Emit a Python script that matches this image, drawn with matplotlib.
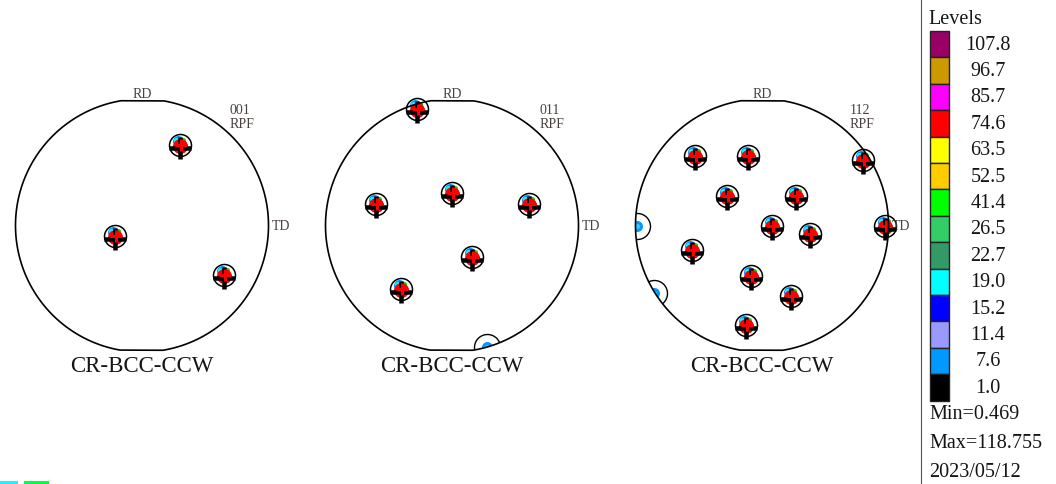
"""
Pole figures (001 / 011 / 112) with a level legend, redrawn in matplotlib
"""

import numpy as np
import matplotlib
matplotlib.use('Agg')
import matplotlib.pyplot as plt
from matplotlib.patches import Polygon, Rectangle
from matplotlib.transforms import offset_copy

# ---- data (unit circle coordinates) ----
PANEL_NAMES = ['001', '011', '112']
SAMPLE_NAME = 'CR-BCC-CCW'

POLES_001 = [(0.30, 0.64), (-0.21, -0.08), (0.65, -0.39)]
WEAK_001 = []

POLES_011 = [(-0.28, 0.92), (-0.60, 0.17), (0.00, 0.26), (0.61, 0.17),
             (0.16, -0.25), (-0.40, -0.50)]
WEAK_011 = [(0.28, -0.96)]

POLES_112 = [(-0.53, 0.55), (-0.11, 0.55), (0.80, 0.52), (-0.28, 0.23),
             (0.27, 0.23), (0.08, 0.00), (0.38, -0.07), (0.97, 0.00),
             (-0.55, -0.19), (-0.09, -0.40), (0.23, -0.56), (-0.13, -0.79)]
WEAK_112 = [(-0.99, 0.00), (-0.85, -0.53)]

LEVELS = ['107.8', '96.7', '85.7', '74.6', '63.5', '52.5', '41.4',
          '26.5', '22.7', '19.0', '15.2', '11.4', '7.6', '1.0']
LEVEL_COLORS = ['#990066', '#CC9900', '#FF00FF', '#FF0000', '#FFFF00',
                '#FFCC00', '#00FF00', '#33CC66', '#339966', '#00FFFF',
                '#0000FF', '#9999FF', '#0099FF', '#000000']
MIN_VALUE = '0.469'
MAX_VALUE = '118.755'
DATE = '2023/05/12'

# ---- layout (pixels) ----
W, H = 1056, 485
DPI = 100
CENTERS_X = [142, 452, 762]
CENTER_Y = 226.5
RADIUS = 126.5
HALF = 175

SERIF = 'Liberation Serif'
TEXT_DARK = '#151515'
TEXT_GREY = '#4a4040'


def px_rect(x0, y0, w, h):
    """pixel box (top-left origin) -> figure fraction rect"""
    return [x0 / W, 1 - (y0 + h) / H, w / W, h / H]


def px_pt(px):
    return px * 72.0 / DPI


def frame_circle():
    # circle with the short flat bits at top and bottom, like the original
    t = np.linspace(0, 2 * np.pi, 721)
    gap = np.radians(9.5)
    keep = (np.abs(t - np.pi / 2) > gap) & (np.abs(t - 3 * np.pi / 2) > gap)
    t = t[keep]
    return np.column_stack([np.cos(t), np.sin(t)])


def draw_pole(ax, fig, x, y):
    def shifted(dx, dy):
        return offset_copy(ax.transData, fig=fig, x=dx, y=dy, units='dots')

    ax.plot(x, y, 'o', ms=px_pt(22), mfc='white', mec='black', mew=1.1,
            zorder=3)
    ax.plot(x, y, 'o', ms=px_pt(11), mfc='#0099FF', mec='none',
            transform=shifted(-2, 4), zorder=4)
    ax.plot(x, y, 'o', ms=px_pt(5), mfc='#00FFFF', mec='none',
            transform=shifted(-4, 5), zorder=4)
    ax.plot(x, y, 'o', ms=px_pt(5), mfc='#00DD00', mec='none',
            transform=shifted(3, 5), zorder=4)
    ax.plot(x, y, 'o', ms=px_pt(15), mfc='#FF0000', mec='none',
            transform=shifted(0, -1), zorder=5)
    ax.plot(x, y, '+', ms=px_pt(22), mec='black', mew=px_pt(4.5),
            transform=shifted(0, -3), zorder=6)
    ax.plot(x, y, '+', ms=px_pt(12), mec='#FF0000', mew=px_pt(3),
            transform=shifted(1, 0), zorder=7)


def draw_weak_pole(ax, clip, x, y):
    parts = [
        ax.plot(x, y, 'o', ms=px_pt(26), mfc='white', mec='black', mew=1.0,
                zorder=3)[0],
        ax.plot(x, y, 'o', ms=px_pt(11), mfc='#0099FF', mec='none',
                zorder=4)[0],
        ax.plot(x, y, 'o', ms=px_pt(5), mfc='#33CCFF', mec='none',
                zorder=4)[0],
    ]
    for p in parts:
        p.set_clip_path(clip)


def draw_panel(fig, cx, name, poles, weak):
    ax = fig.add_axes(px_rect(cx - HALF, CENTER_Y - HALF, 2 * HALF, 2 * HALF))
    lim = HALF / RADIUS
    ax.set_xlim(-lim, lim)
    ax.set_ylim(-lim, lim)
    ax.set_aspect('equal')
    ax.axis('off')

    outline = Polygon(frame_circle(), closed=True, fill=False,
                      edgecolor='black', linewidth=1.2, zorder=8)
    ax.add_patch(outline)
    clip = Polygon(frame_circle(), closed=True, transform=ax.transData)

    for x, y in weak:
        draw_weak_pole(ax, clip, x, y)
    for x, y in poles:
        draw_pole(ax, fig, x, y)

    ax.text(0, 1.04, 'RD', ha='center', va='center', fontsize=10,
            family=SERIF, color=TEXT_GREY)
    ax.text(1.03, 0.0, 'TD', ha='left', va='center', fontsize=10,
            family=SERIF, color=TEXT_GREY)
    ax.text(0.69, 0.92, name, ha='left', va='center', fontsize=10,
            family=SERIF, color=TEXT_GREY)
    ax.text(0.69, 0.81, 'RPF', ha='left', va='center', fontsize=10,
            family=SERIF, color=TEXT_GREY)
    ax.text(0, -1.11, SAMPLE_NAME, ha='center', va='center', fontsize=16.5,
            family=SERIF, color=TEXT_DARK)
    return ax


def draw_legend(fig):
    box_w = 19
    top, pitch = 32, 26.4
    n = len(LEVELS)
    ax = fig.add_axes(px_rect(930, top, box_w, pitch * n))
    ax.set_xlim(0, 1)
    ax.set_ylim(n, 0)
    ax.axis('off')
    for i, (lab, col) in enumerate(zip(LEVELS, LEVEL_COLORS)):
        ax.add_patch(Rectangle((0, i), 1, 1, facecolor=col,
                               edgecolor='#222222', linewidth=1.0,
                               clip_on=False))
        ax.text(3.05, i + 0.5, lab, ha='center', va='center', fontsize=14.5,
                family=SERIF, color=TEXT_DARK, clip_on=False)

    def ftext(x, y, s):
        fig.text(x / W, 1 - y / H, s, ha='left', va='center', fontsize=14.5,
                 family=SERIF, color=TEXT_DARK)

    ftext(928, 19, 'Levels')
    ftext(929, 415, 'Min=' + MIN_VALUE)
    ftext(929, 444, 'Max=' + MAX_VALUE)
    ftext(929, 473, DATE)


def main():
    fig = plt.figure(figsize=(W / DPI, H / DPI), dpi=DPI)
    fig.patch.set_facecolor('white')

    panels = [(POLES_001, WEAK_001), (POLES_011, WEAK_011),
              (POLES_112, WEAK_112)]
    for cx, name, (poles, weak) in zip(CENTERS_X, PANEL_NAMES, panels):
        draw_panel(fig, cx, name, poles, weak)

    draw_legend(fig)

    # separator on the left of the legend
    fig.add_artist(plt.Line2D([921 / W, 921 / W], [0, 1], color='#555555',
                              linewidth=0.8))
    # little coloured dashes in the bottom-left corner
    fig.add_artist(plt.Line2D([0, 16 / W], [2 / H, 2 / H], color='#22EEFF',
                              linewidth=2.2))
    fig.add_artist(plt.Line2D([25 / W, 47 / W], [2 / H, 2 / H],
                              color='#00FF44', linewidth=2.2))

    fig.savefig('out.png', dpi=DPI, facecolor='white')


if __name__ == '__main__':
    main()
